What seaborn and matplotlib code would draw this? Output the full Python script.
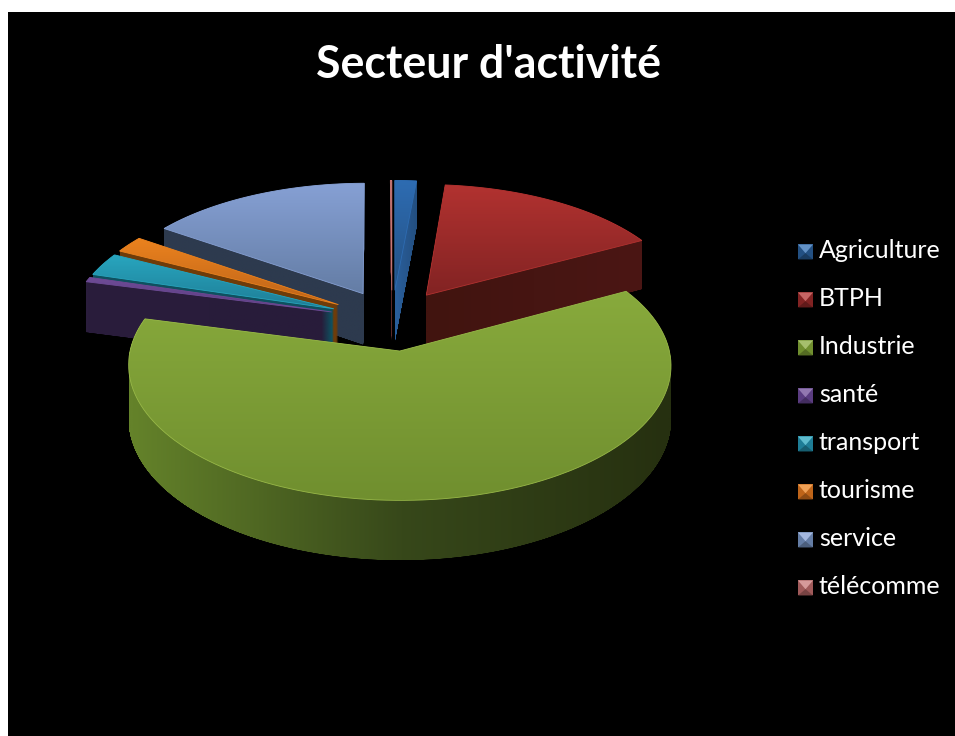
import numpy as np
import seaborn as sns
import matplotlib
matplotlib.use('Agg')
import matplotlib.pyplot as plt
from matplotlib.legend_handler import HandlerBase
from matplotlib.patches import Polygon
from matplotlib.path import Path
from matplotlib.transforms import Affine2D, Transform

sectors = ['Agriculture', 'BTPH', 'Industrie', 'santé', 'transport', 'tourisme', 'service', 'télécomme']
shares = [1.5, 15.7, 61.7, 0.6, 2.9, 2.1, 15.3, 0.1]

top_light = ['#2e6cb2', '#b23230', '#88aa3c', '#6e4b96', '#28a5be', '#eb821e', '#86a0d4', '#c87878']
top_dark = ['#235082', '#822323', '#708f2f', '#5a3c80', '#1e7d96', '#be6419', '#647da5', '#a05a5a']
side_left = ['#2a5f9c', '#41140f', '#64822a', '#2a1d3c', '#0f505f', '#6e3c0a', '#2d3a4e', '#5a2a2a']
side_mid = ['#27578e', '#461512', '#37481a', '#291c3b', '#0f505f', '#6e3c0a', '#2d3a4e', '#5a2a2a']
side_right = ['#234f80', '#4b1614', '#263010', '#281c3a', '#0f505f', '#6e3c0a', '#2d3a4e', '#5a2a2a']

# back to front, later slices paint over the walls of earlier ones
draw_order = [7, 0, 6, 5, 4, 3, 1, 2]

CX, CY = 392, 320
RX, RY = 263, 127
TILT = 0.1036
DEPTH = 52


class TiltTransform(Transform):
    """Flat pie plane -> picture pixels, nearer slices come out bigger."""
    input_dims = output_dims = 2
    is_separable = False
    has_inverse = False

    def __init__(self, drop=0):
        super().__init__()
        self.drop = drop

    def transform_non_affine(self, values):
        x, y = np.asarray(values).T
        w = 1 + TILT * y
        return np.column_stack([CX + RX * x / w, CY - RY * y / w + self.drop / w])

    def transform_path_non_affine(self, path):
        # flatten the arcs first, bezier handles do not survive the projection
        scale = Affine2D().scale(600)
        poly = path.transformed(scale).to_polygons(closed_only=True)[0] / 600
        return Path(self.transform_non_affine(poly))


def gradient(ax, colors, clip, zorder, vertical=True):
    ramp = np.array(sns.blend_palette(colors, 64))
    img = ramp[:, None, :] if vertical else ramp[None, :, :]
    x0, y0, x1, y1 = clip.get_extents().extents
    im = ax.imshow(img, extent=(x0, x1, y1, y0), aspect='auto', zorder=zorder, interpolation='bilinear')
    im.set_clip_path(clip, transform=ax.transData)


class BevelHandler(HandlerBase):
    def create_artists(self, legend, orig_handle, xdescent, ydescent, width, height, fontsize, trans):
        i = legend_handles.index(orig_handle)
        s = width
        x0, y0 = -xdescent, -ydescent - 0.1 * s
        x1, y1 = x0 + s, y0 + s
        mx, my = x0 + s / 2, y0 + s * 0.42
        base = sns.blend_palette([top_dark[i], '#000000'], 5)[1]
        light = sns.blend_palette([top_light[i], '#ffffff'], 5)[1]
        parts = [
            Polygon([(x0, y0), (x1, y0), (x1, y1), (x0, y1)], fc=top_dark[i], ec='none'),
            Polygon([(x0, y1), (x1, y1), (mx, my)], fc=light, ec='none'),
            Polygon([(x0, y0), (x1, y0), (mx, my)], fc=base, ec='none'),
        ]
        for p in parts:
            p.set_transform(trans)
        return parts


sns.set_theme(style='dark', rc={'axes.facecolor': 'black', 'figure.facecolor': 'white'})
plt.rcParams['font.family'] = ['Lato', 'DejaVu Sans']

fig = plt.figure(figsize=(9.55, 7.36), dpi=100)
ax = fig.add_axes([8 / 955, 0, 947 / 955, 724 / 736])

wedges, _ = ax.pie(shares, explode=[0.24] * len(shares), colors=top_light, startangle=90,
                   counterclock=False, frame=True)

top = TiltTransform()
for rank, i in enumerate(draw_order):
    w = wedges[i]
    flat = w.get_path()
    face = top.transform_path(flat)
    # fine steps, thin slices would let the wall behind shine through otherwise
    walls = Path.make_compound_path(*[TiltTransform(d).transform_path(flat) for d in np.linspace(0, DEPTH, 260)])
    gradient(ax, [side_left[i], side_mid[i], side_right[i]], walls, 10 + rank, vertical=False)
    gradient(ax, [top_light[i], top_dark[i]], face, 10 + rank + 0.2)
    w.set_transform(top + ax.transData)
    w.set_facecolor('none')
    w.set_edgecolor(top_light[i] if i != 2 else '#98b848')
    w.set_linewidth(0.6)
    w.set_zorder(10 + rank + 0.4)

ax.set_aspect('auto')
ax.set_xlim(8, 955)
ax.set_ylim(736, 12)
ax.set_xticks([])
ax.set_yticks([])
for spine in ax.spines.values():
    spine.set_visible(False)

ax.text(489, 64.5, "Secteur d'activité", color='white', fontsize=32.1, fontweight='bold', ha='center', va='center')

legend_handles = list(wedges)
leg = ax.legend(legend_handles, sectors, handler_map={h: BevelHandler() for h in legend_handles},
                loc='upper left', bbox_to_anchor=(0.8342, 0.6865), frameon=False, fontsize=18,
                labelcolor='white', handlelength=0.6, handletextpad=0.24, labelspacing=1.0,
                borderpad=0, borderaxespad=0)
leg.set_zorder(50)

fig.savefig('out.png', dpi=100)
